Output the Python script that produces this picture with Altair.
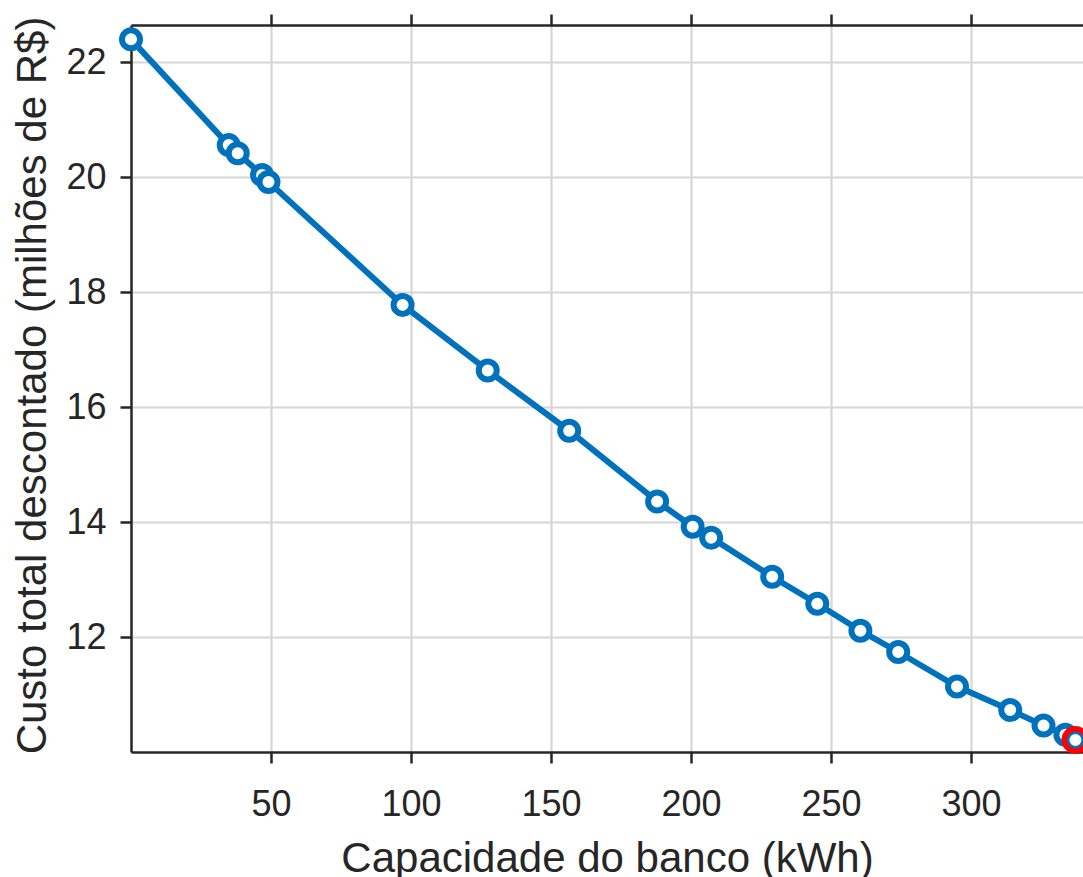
import altair as alt
import pandas as pd

# Data
capacidade = [0.0, 34.9, 38.1, 46.8, 49.1, 97.0, 127.4, 156.5, 187.9, 200.6,
              207.2, 229.0, 245.1, 260.5, 274.0, 295.0, 314.0, 325.9, 333.7, 337.3]
custo = [22.40, 20.56, 20.42, 20.04, 19.92, 17.78, 16.64, 15.59, 14.36, 13.92,
         13.73, 13.05, 12.58, 12.11, 11.74, 11.14, 10.73, 10.46, 10.30, 10.21]
x_ticks = [50, 100, 150, 200, 250, 300]
y_ticks = [12, 14, 16, 18, 20, 22]
x_title = "Capacidade do banco (kWh)"
y_title = "Custo total descontado (milhões de R$)"

df = pd.DataFrame({"cap": capacidade, "custo": custo})
df_best = df.tail(1)

BLUE = "#0072BD"
DARK = "#262626"
FONT = "Liberation Sans"

xscale = alt.Scale(domain=[0, 340], nice=False, zero=False)
yscale = alt.Scale(domain=[10, 22.65], nice=False, zero=False)

x_bottom = alt.X(
    "cap:Q", scale=xscale,
    axis=alt.Axis(orient="bottom", values=x_ticks, title=x_title, grid=True,
                  labelPadding=24, titleX=476, titleY=119,
                  titleBaseline="alphabetic", titleAlign="center"),
)
x_top = alt.X(
    "cap:Q", scale=xscale,
    axis=alt.Axis(orient="top", values=x_ticks, title=None, labels=False, grid=False),
)
y_left = alt.Y(
    "custo:Q", scale=yscale,
    axis=alt.Axis(orient="left", values=y_ticks, title=y_title, grid=True,
                  labelPadding=14, titleX=-86, titleY=360, titleAngle=270,
                  titleBaseline="alphabetic", titleAlign="center"),
)

base = alt.Chart(df)

line = base.mark_line(color=BLUE, strokeWidth=6, clip=False).encode(x=x_bottom, y=y_left)
pts = base.mark_point(shape="circle", filled=True, fill="white", stroke=BLUE,
                      strokeWidth=6, size=324, opacity=1, clip=False).encode(x=x_top, y=y_left)
best = alt.Chart(df_best).mark_point(shape="circle", filled=False, stroke="#FF0000",
                                     strokeWidth=5.5, size=500, opacity=1, clip=False).encode(
    x=alt.X("cap:Q", scale=xscale, axis=None), y=y_left)

chart = (
    alt.layer(line, pts, best)
    .resolve_axis(x="independent")
    .properties(width=952, height=727,
                padding={"left": 131, "top": 25, "right": 0, "bottom": 125},
                autosize=alt.AutoSizeParams(type="none"))
    .configure_view(stroke=None)
    .configure_axis(
        domainColor=DARK, domainWidth=2.5, tickColor=DARK, tickWidth=2.5, tickSize=11,
        gridColor="#d6d6d6", gridWidth=2.2,
        labelFont=FONT, labelFontSize=36, labelColor=DARK,
        titleFont=FONT, titleFontSize=42, titleFontWeight="normal", titleColor=DARK,
    )
)

chart.save("out.html", embed_options={"renderer": "svg", "actions": False})
